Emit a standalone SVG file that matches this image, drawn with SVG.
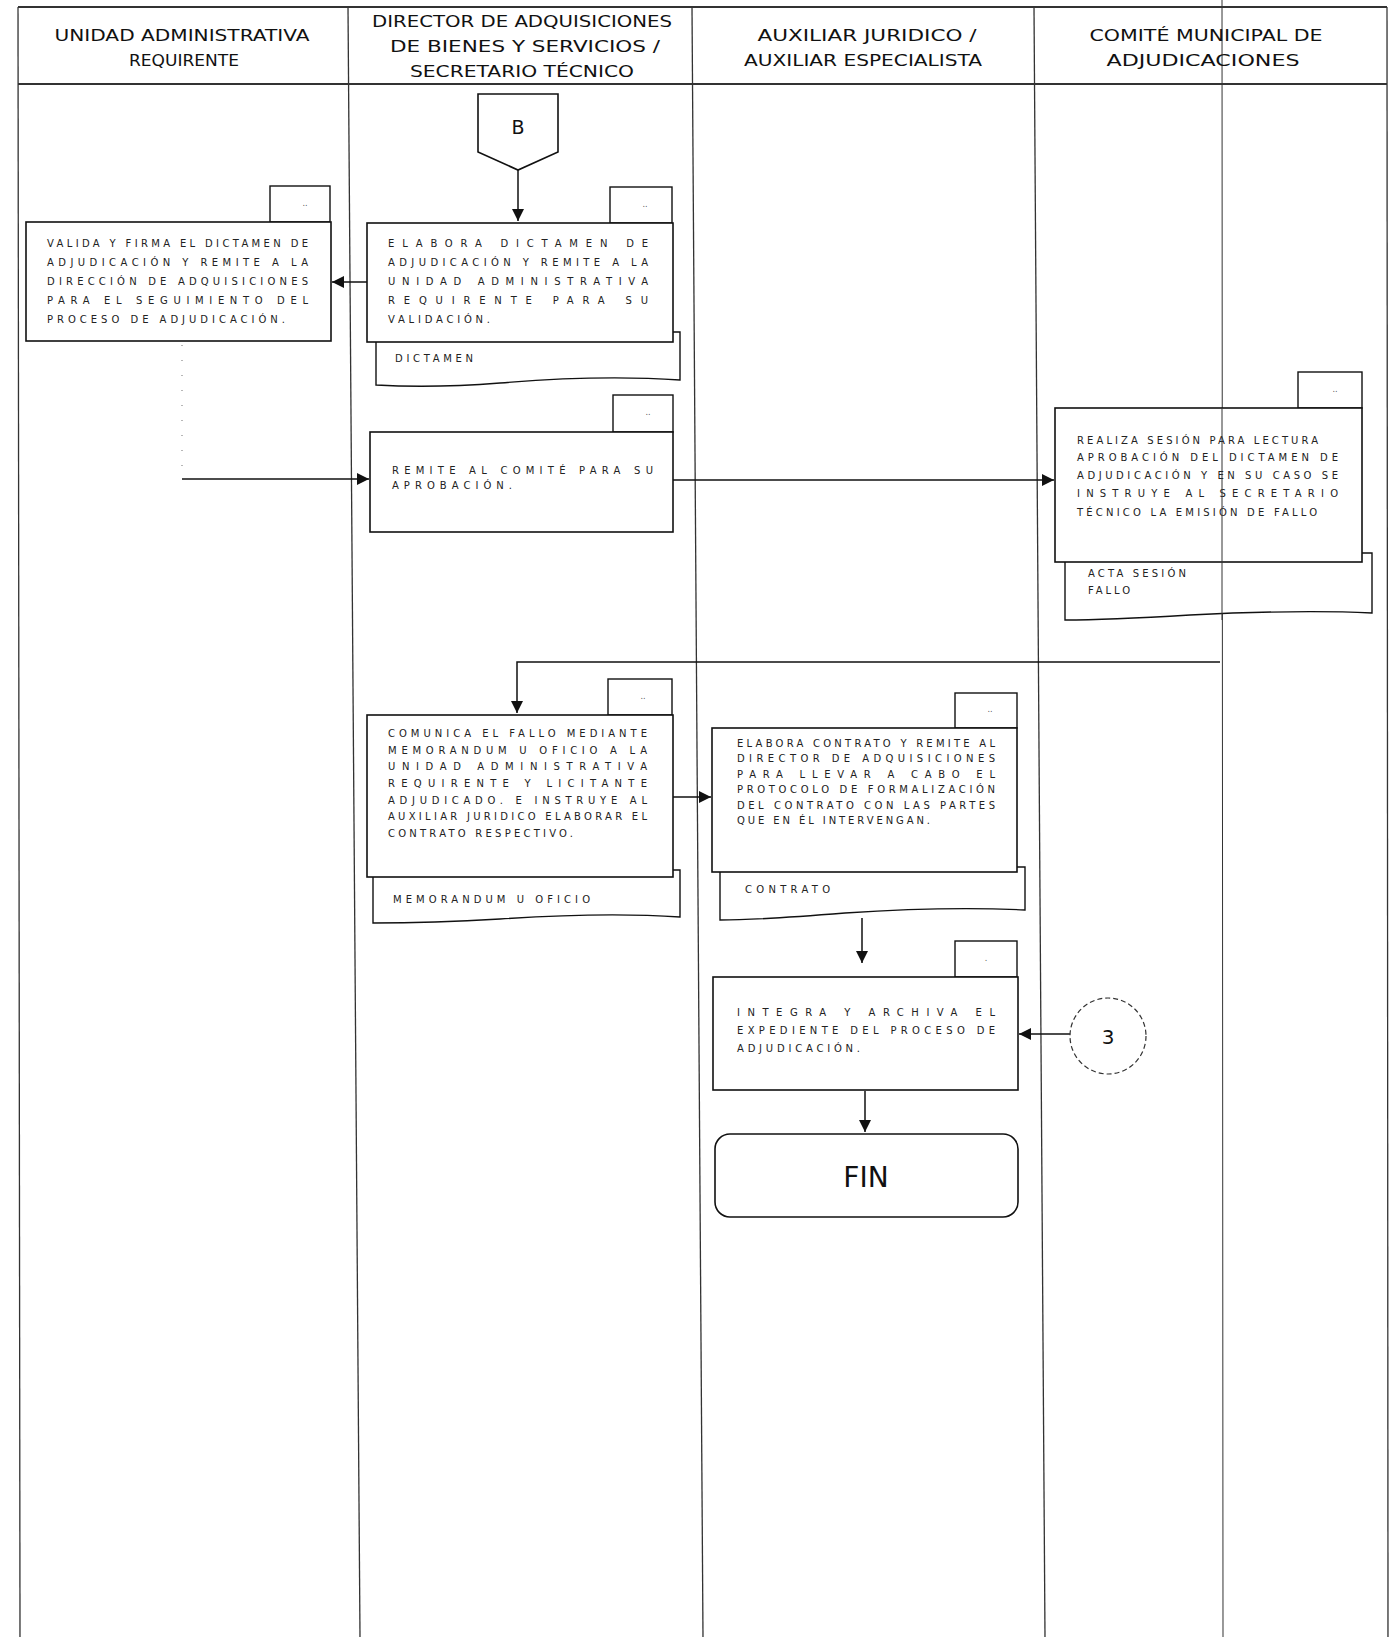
<svg xmlns="http://www.w3.org/2000/svg" width="1390" height="1637" viewBox="0 0 1390 1637">
<style>
.lane{stroke:#333;stroke-width:1.3;fill:none}
.hdr{font-family:"DejaVu Sans","Liberation Sans",sans-serif;font-size:16px;fill:#111;text-anchor:middle}
.box{fill:#fff;stroke:#111;stroke-width:1.6}
.tab{fill:#fff;stroke:#111;stroke-width:1.4}
.doc{fill:#fff;stroke:#111;stroke-width:1.4}
.t{font-family:"DejaVu Sans","Liberation Sans",sans-serif;font-size:10px;fill:#222}
.tt{font-family:"DejaVu Sans",sans-serif;font-size:8px;fill:#555;text-anchor:middle}
.con{fill:none;stroke:#111;stroke-width:1.5}
</style>
<defs>
<marker id="ah" markerUnits="userSpaceOnUse" markerWidth="12" markerHeight="12" viewBox="0 0 10 10" refX="10" refY="5" orient="auto">
<path d="M0,0 L10,5 L0,10 z" fill="#111"/>
</marker>
</defs>
<rect width="1390" height="1637" fill="#fff"/>
<g id="lanes">
<line class="lane" x1="1222" y1="0" x2="1223" y2="1637" style="stroke-width:1"/>
<line class="lane" x1="18" y1="7" x2="20" y2="1637"/>
<line class="lane" x1="348" y1="7" x2="360" y2="1637"/>
<line class="lane" x1="692" y1="7" x2="703" y2="1637"/>
<line class="lane" x1="1034" y1="7" x2="1045" y2="1637"/>
<line class="lane" x1="1387" y1="7" x2="1388" y2="1637"/>
<line class="lane" x1="18" y1="7" x2="1387" y2="7" style="stroke-width:2"/>
<line class="lane" x1="18" y1="84" x2="1387" y2="84" style="stroke-width:2"/>
</g>
<g id="header">
<text class="hdr" x="182" y="41" textLength="255" lengthAdjust="spacingAndGlyphs">UNIDAD ADMINISTRATIVA</text>
<text class="hdr" x="184" y="66" textLength="110" lengthAdjust="spacingAndGlyphs">REQUIRENTE</text>
<text class="hdr" x="522" y="27" textLength="300" lengthAdjust="spacingAndGlyphs">DIRECTOR DE ADQUISICIONES</text>
<text class="hdr" x="525" y="52" textLength="270" lengthAdjust="spacingAndGlyphs">DE BIENES Y SERVICIOS /</text>
<text class="hdr" x="522" y="77" textLength="224" lengthAdjust="spacingAndGlyphs">SECRETARIO TÉCNICO</text>
<text class="hdr" x="867" y="41" textLength="219" lengthAdjust="spacingAndGlyphs">AUXILIAR JURIDICO /</text>
<text class="hdr" x="863" y="66" textLength="238" lengthAdjust="spacingAndGlyphs">AUXILIAR ESPECIALISTA</text>
<text class="hdr" x="1206" y="41" textLength="233" lengthAdjust="spacingAndGlyphs">COMITÉ MUNICIPAL DE</text>
<text class="hdr" x="1203" y="66" textLength="193" lengthAdjust="spacingAndGlyphs">ADJUDICACIONES</text>
</g>
<g id="connectors">
<path class="con" d="M518 170 V221" marker-end="url(#ah)"/>
<path class="con" d="M367 282 H332" marker-end="url(#ah)"/>
<path class="con" d="M182 345 V479" style="stroke:#888;stroke-width:1.2;stroke-dasharray:1 14"/>
<path class="con" d="M182 479 H369" marker-end="url(#ah)"/>
<path class="con" d="M673 480 H1054" marker-end="url(#ah)"/>
<path class="con" d="M1220 662 H517 V713" marker-end="url(#ah)"/>
<path class="con" d="M673 797 H711" marker-end="url(#ah)"/>
<path class="con" d="M862 918 V963" marker-end="url(#ah)"/>
<path class="con" d="M865 1091 V1132" marker-end="url(#ah)"/>
<path class="con" d="M1071 1034 H1019" marker-end="url(#ah)"/>
</g>
<g id="conector-b">
<path class="box" d="M478 94 H558 V152 L518 170 L478 152 Z"/>
<text x="518" y="134" style="font-family:'DejaVu Sans',sans-serif;font-size:19px;fill:#111;text-anchor:middle">B</text>
</g>
<g id="n-valida">
<rect class="tab" x="270" y="186" width="60" height="36"/>
<text class="tt" x="305" y="206">..</text>
<rect class="box" x="26" y="222" width="305" height="119"/>
<text class="t" x="47" y="247" textLength="261" lengthAdjust="spacing">VALIDA Y FIRMA EL DICTAMEN DE</text>
<text class="t" x="47" y="266" textLength="261" lengthAdjust="spacing">ADJUDICACIÓN Y REMITE A LA</text>
<text class="t" x="47" y="285" textLength="261" lengthAdjust="spacing">DIRECCIÓN DE ADQUISICIONES</text>
<text class="t" x="47" y="304" textLength="261" lengthAdjust="spacing">PARA EL SEGUIMIENTO DEL</text>
<text class="t" x="47" y="323" textLength="238" lengthAdjust="spacing">PROCESO DE ADJUDICACIÓN.</text>
</g>
<g id="n-elabora-dictamen">
<path class="doc" d="M376 332 H680 V380 C620 376 560 378 500 383 C450 387 410 387 376 385 Z"/>
<text class="t" x="395" y="362" textLength="78" lengthAdjust="spacing">DICTAMEN</text>
<rect class="tab" x="610" y="187" width="62" height="36"/>
<text class="tt" x="645" y="207">..</text>
<rect class="box" x="367" y="223" width="306" height="119"/>
<text class="t" x="388" y="247" textLength="260" lengthAdjust="spacing">ELABORA DICTAMEN DE</text>
<text class="t" x="388" y="266" textLength="260" lengthAdjust="spacing">ADJUDICACIÓN Y REMITE A LA</text>
<text class="t" x="388" y="285" textLength="260" lengthAdjust="spacing">UNIDAD ADMINISTRATIVA</text>
<text class="t" x="388" y="304" textLength="260" lengthAdjust="spacing">REQUIRENTE PARA SU</text>
<text class="t" x="388" y="323" textLength="102" lengthAdjust="spacing">VALIDACIÓN.</text>
</g>
<g id="n-remite-comite">
<rect class="tab" x="613" y="395" width="60" height="37"/>
<text class="tt" x="648" y="415">..</text>
<rect class="box" x="370" y="432" width="303" height="100"/>
<text class="t" x="392" y="474" textLength="261" lengthAdjust="spacing">REMITE AL COMITÉ PARA SU</text>
<text class="t" x="392" y="489" textLength="120" lengthAdjust="spacing">APROBACIÓN.</text>
</g>
<g id="n-sesion">
<path class="doc" d="M1065 553 H1372 V613 C1310 610 1250 612 1190 615 C1140 618 1100 620 1065 620 Z"/>
<text class="t" x="1088" y="577" textLength="98" lengthAdjust="spacing">ACTA SESIÓN</text>
<text class="t" x="1088" y="594" textLength="42" lengthAdjust="spacing">FALLO</text>
<rect class="tab" x="1298" y="372" width="64" height="36"/>
<text class="tt" x="1335" y="392">..</text>
<rect class="box" x="1055" y="408" width="307" height="154"/>
<text class="t" x="1077" y="444" textLength="241" lengthAdjust="spacing">REALIZA SESIÓN PARA LECTURA</text>
<text class="t" x="1077" y="461" textLength="261" lengthAdjust="spacing">APROBACIÓN DEL DICTAMEN DE</text>
<text class="t" x="1077" y="479" textLength="261" lengthAdjust="spacing">ADJUDICACIÓN Y EN SU CASO SE</text>
<text class="t" x="1077" y="497" textLength="261" lengthAdjust="spacing">INSTRUYE AL SECRETARIO</text>
<text class="t" x="1077" y="516" textLength="240" lengthAdjust="spacing">TÉCNICO LA EMISIÓN DE FALLO</text>
</g>
<line x1="1222" y1="408" x2="1222" y2="620" stroke="#333" stroke-width="1"/>
<g id="n-comunica-fallo">
<path class="doc" d="M373 870 H680 V917 C620 913 560 915 500 919 C450 922 410 923 373 923 Z"/>
<text class="t" x="393" y="903" textLength="197" lengthAdjust="spacing">MEMORANDUM U OFICIO</text>
<rect class="tab" x="608" y="679" width="64" height="36"/>
<text class="tt" x="643" y="699">..</text>
<rect class="box" x="367" y="715" width="306" height="162"/>
<text class="t" x="388" y="737" textLength="259" lengthAdjust="spacing">COMUNICA EL FALLO MEDIANTE</text>
<text class="t" x="388" y="754" textLength="259" lengthAdjust="spacing">MEMORANDUM U OFICIO A LA</text>
<text class="t" x="388" y="770" textLength="259" lengthAdjust="spacing">UNIDAD ADMINISTRATIVA</text>
<text class="t" x="388" y="787" textLength="259" lengthAdjust="spacing">REQUIRENTE Y LICITANTE</text>
<text class="t" x="388" y="804" textLength="259" lengthAdjust="spacing">ADJUDICADO. E INSTRUYE AL</text>
<text class="t" x="388" y="820" textLength="259" lengthAdjust="spacing">AUXILIAR JURIDICO ELABORAR EL</text>
<text class="t" x="388" y="837" textLength="185" lengthAdjust="spacing">CONTRATO RESPECTIVO.</text>
</g>
<g id="n-elabora-contrato">
<path class="doc" d="M720 867 H1025 V910 C965 907 905 909 845 913 C795 917 755 920 720 920 Z"/>
<text class="t" x="745" y="893" textLength="85" lengthAdjust="spacing">CONTRATO</text>
<rect class="tab" x="955" y="693" width="62" height="35"/>
<text class="tt" x="990" y="712">..</text>
<rect class="box" x="712" y="728" width="305" height="144"/>
<text class="t" x="737" y="747" textLength="258" lengthAdjust="spacing">ELABORA CONTRATO Y REMITE AL</text>
<text class="t" x="737" y="762" textLength="258" lengthAdjust="spacing">DIRECTOR DE ADQUISICIONES</text>
<text class="t" x="737" y="778" textLength="258" lengthAdjust="spacing">PARA LLEVAR A CABO EL</text>
<text class="t" x="737" y="793" textLength="258" lengthAdjust="spacing">PROTOCOLO DE FORMALIZACIÓN</text>
<text class="t" x="737" y="809" textLength="258" lengthAdjust="spacing">DEL CONTRATO CON LAS PARTES</text>
<text class="t" x="737" y="824" textLength="193" lengthAdjust="spacing">QUE EN ÉL INTERVENGAN.</text>
</g>
<g id="n-integra">
<rect class="tab" x="955" y="941" width="62" height="36"/>
<text class="tt" x="986" y="961">.</text>
<rect class="box" x="713" y="977" width="305" height="113"/>
<text class="t" x="737" y="1016" textLength="258" lengthAdjust="spacing">INTEGRA Y ARCHIVA EL</text>
<text class="t" x="737" y="1034" textLength="258" lengthAdjust="spacing">EXPEDIENTE DEL PROCESO DE</text>
<text class="t" x="737" y="1052" textLength="123" lengthAdjust="spacing">ADJUDICACIÓN.</text>
</g>
<g id="conector-3">
<circle cx="1108" cy="1036" r="38" fill="#fff" stroke="#333" stroke-width="1.2" stroke-dasharray="5 3"/>
<text x="1108" y="1044" style="font-family:'DejaVu Sans',sans-serif;font-size:20px;fill:#111;text-anchor:middle">3</text>
</g>
<g id="fin">
<rect class="box" x="715" y="1134" width="303" height="83" rx="15"/>
<text x="866" y="1187" style="font-family:'DejaVu Sans',sans-serif;font-size:28px;fill:#111;text-anchor:middle">FIN</text>
</g>
</svg>
